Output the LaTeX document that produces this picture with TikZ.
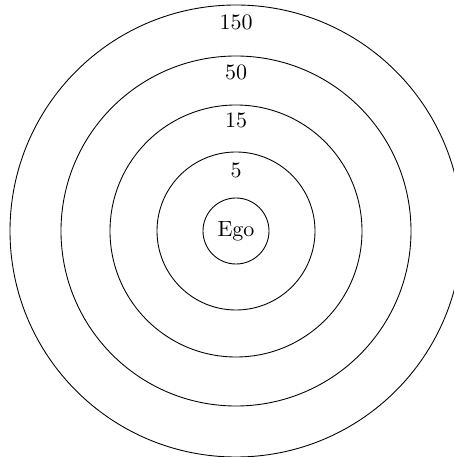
\documentclass[tikz,border=0pt]{standalone}
\begin{document}
\begin{tikzpicture}[x=0.4545pt,y=0.4545pt,
  ring/.style={draw=black, line width=0.4pt},
  lbl/.style={inner sep=0pt, anchor=center}]
\useasboundingbox (0,0) rectangle (453,457);
\coordinate (c) at (236,226);
\node[circle, draw, line width=0.4pt, minimum size=30pt, inner sep=0pt] (ego) at (c) {Ego};
\draw[ring] (c) circle[radius=79];
\draw[ring] (c) circle[radius=126];
\draw[ring] (c) circle[radius=175];
\draw[ring] (c) circle[radius=226];
\node[lbl] (l5) at (236,287) {5};
\node[lbl] (l15) at (236,337) {15};
\node[lbl] (l50) at (236,385) {50};
\node[lbl] (l150) at (236,435) {150};
\end{tikzpicture}
\end{document}
